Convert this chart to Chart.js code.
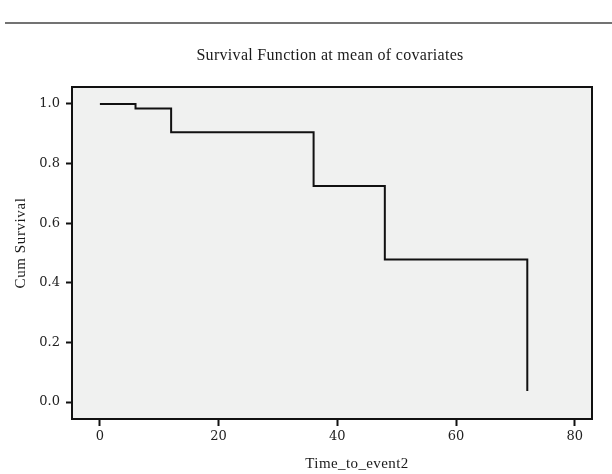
<!DOCTYPE html>
<html>
<head>
<meta charset="utf-8">
<script src="https://cdn.jsdelivr.net/npm/chart.js@4.4.1/dist/chart.umd.min.js"></script>
<style>
  html, body { margin: 0; padding: 0; background: #fff; }
  #wrap { width: 612px; height: 474px; }
</style>
</head>
<body>
<div id="wrap"><canvas id="survChart" width="612" height="474"></canvas></div>
<script>
// survival steps
const eventTimes = [0, 6, 12, 36, 48, 72];
const cumSurvival = [1.0, 0.985, 0.905, 0.725, 0.478, 0.037];
const xTicks = [0, 20, 40, 60, 80];
const yTicks = [0.0, 0.2, 0.4, 0.6, 0.8, 1.0];

const chartTitle = 'Survival Function at mean of covariates';
const xTitle = 'Time_to_event2';
const yTitle = 'Cum Survival';

const points = eventTimes.map((t, i) => ({ x: t, y: cumSurvival[i] }));

function label(ctx, text, x, y, size, spacing, rot) {
  ctx.save();
  ctx.translate(x, y);
  if (rot) ctx.rotate(rot);
  ctx.fillStyle = '#1a1a1a';
  ctx.font = size + 'px "Liberation Serif", serif';
  ctx.letterSpacing = spacing + 'px';
  ctx.textAlign = 'center';
  ctx.textBaseline = 'middle';
  ctx.fillText(text, 0, 0);
  ctx.restore();
}

// panel background, frame, top rule and titles
const decor = {
  id: 'decor',
  beforeDraw(chart) {
    const { ctx, chartArea: a } = chart;
    ctx.save();
    ctx.fillStyle = '#f0f1f0';
    ctx.fillRect(a.left, a.top, a.right - a.left, a.bottom - a.top);
    ctx.strokeStyle = '#444';
    ctx.lineWidth = 1.5;
    ctx.beginPath();
    ctx.moveTo(5, 23);
    ctx.lineTo(612, 23);
    ctx.stroke();
    ctx.restore();
    label(ctx, chartTitle, 330, 56, 16, 0.3);
    label(ctx, xTitle, 357, 464, 15, 0.4);
    label(ctx, yTitle, 21, 243, 15, 0.6, -Math.PI / 2);
  },
  afterDatasetsDraw(chart) {
    const { ctx, chartArea: a } = chart;
    ctx.save();
    ctx.strokeStyle = '#111';
    ctx.lineWidth = 2;
    ctx.strokeRect(a.left, a.top, a.right - a.left, a.bottom - a.top);
    ctx.restore();
  }
};

const tickFont = { family: '"DejaVu Serif", serif', size: 13 };

new Chart(document.getElementById('survChart'), {
  type: 'line',
  data: {
    datasets: [{
      data: points,
      stepped: true,
      borderColor: '#111',
      borderWidth: 2,
      pointRadius: 0,
      fill: false
    }]
  },
  options: {
    responsive: false,
    animation: false,
    layout: { padding: { top: 87, right: 20, left: 0, bottom: 0 } },
    plugins: { legend: { display: false }, tooltip: { enabled: false } },
    scales: {
      x: {
        type: 'linear',
        min: -4.7,
        max: 82.9,
        afterBuildTicks: s => { s.ticks = xTicks.map(v => ({ value: v })); },
        afterFit: s => { s.height = 55; },
        grid: { drawOnChartArea: false, drawTicks: true, tickLength: 7, tickWidth: 2, tickColor: '#111', offset: false },
        border: { display: false },
        ticks: { color: '#222', font: tickFont, padding: 3, maxRotation: 0 }
      },
      y: {
        type: 'linear',
        min: -0.057,
        max: 1.057,
        afterBuildTicks: s => { s.ticks = yTicks.map(v => ({ value: v })); },
        afterFit: s => { s.width = 72; },
        grid: { drawOnChartArea: false, drawTicks: true, tickLength: 6, tickWidth: 2, tickColor: '#111' },
        border: { display: false },
        ticks: { color: '#222', font: tickFont, padding: 6, callback: v => v.toFixed(1) }
      }
    }
  },
  plugins: [decor]
});
</script>
</body>
</html>
